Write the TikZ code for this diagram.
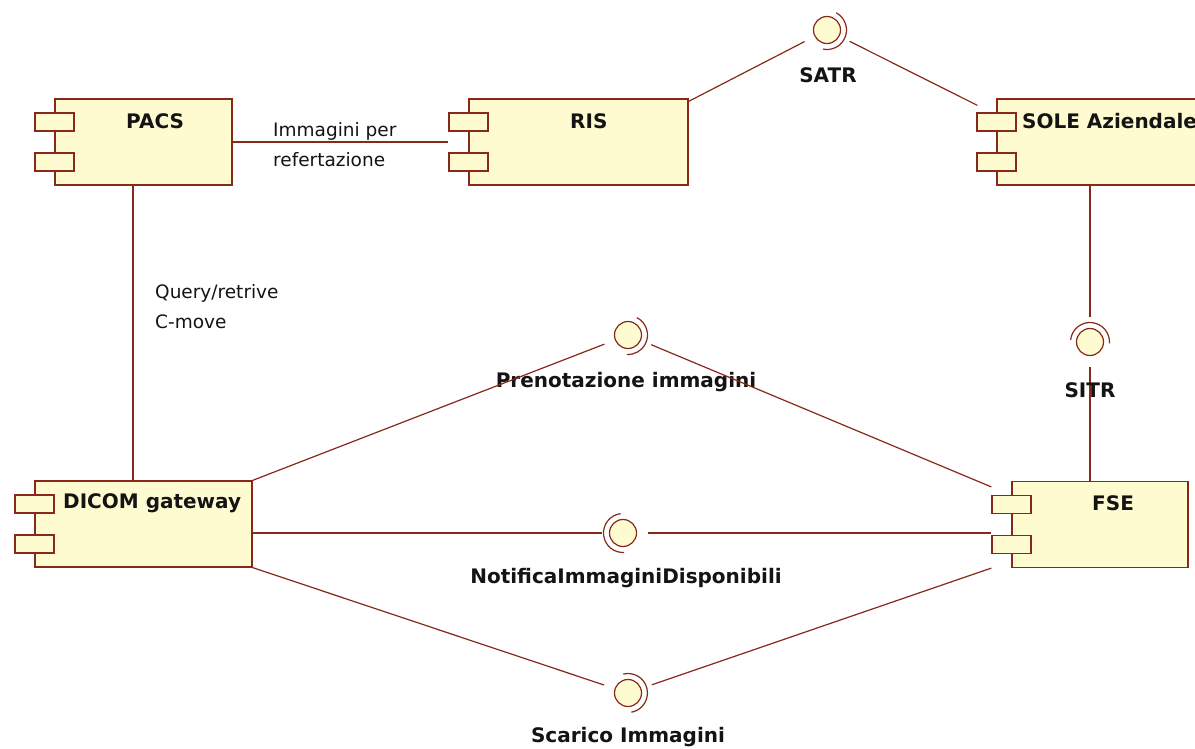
\documentclass[tikz,border=0pt]{standalone}
\usepackage{fontspec}
\setmainfont{DejaVu Sans}
\usetikzlibrary{calc}
\definecolor{umlline}{RGB}{136,40,24}
\definecolor{umlfill}{RGB}{255,251,208}
\definecolor{umltext}{RGB}{20,20,20}
\tikzset{
  comp/.style={draw=umlline, fill=umlfill, line width=1.2pt, minimum height=86pt, inner sep=0pt},
  port/.style={draw=umlline, fill=umlfill, line width=1.2pt, minimum width=39pt, minimum height=18pt, inner sep=0pt},
  complabel/.style={text=umltext, font=\fontsize{20}{24}\selectfont\bfseries, inner sep=0pt, anchor=west},
  ifclabel/.style={text=umltext, font=\fontsize{20}{24}\selectfont\bfseries, inner sep=0pt},
  conlabel/.style={text=umltext, font=\fontsize{18.5}{30}\selectfont, inner sep=0pt, align=left},
  ifc/.style={circle, minimum size=50pt, inner sep=0pt},
  ball/.style={draw=umlline, fill=umlfill, line width=1.2pt},
  socket/.style={draw=umlline, line width=1.2pt},
  wire/.style={draw=umlline, line width=1.2pt},
}
% name, centre x, centre y, width, label, label left x
\newcommand{\umlcomp}[6]{%
  \node[comp, minimum width=#4] (#1) at (#2,#3) {};
  \node[port] (#1-p1) at ($(#1.west)+(0,20)$) {};
  \node[port] (#1-p2) at ($(#1.west)+(0,-20)$) {};
  \node[complabel] (#1-l) at ({#6},{#3+21}) {#5};
}
\newcommand{\umliface}[5]{%
  \node[ifc] (#1) at (#2,#3) {};
  \draw[ball] (#1.center) circle[radius=13.5pt];
  \draw[socket] ($(#1.center)+(#4:19.5pt)$) arc[start angle=#4, end angle=#5, radius=19.5pt];
}
\begin{document}
\begin{tikzpicture}[x=1pt,y=1pt]
\path[use as bounding box] (0,0) rectangle (1195,-749);
\clip (0,0) rectangle (1195,-749);
\fill[white] (0,0) rectangle (1195,-749);

% components
\umlcomp{pacs}{143.5}{-142}{177pt}{PACS}{126}
\umlcomp{ris}{578.5}{-142}{219pt}{RIS}{570}
\umlcomp{sole}{1106.5}{-142}{219pt}{SOLE Aziendale}{1022}
\umlcomp{dicom}{143.5}{-524}{217pt}{DICOM gateway}{63}
\umlcomp{fse}{1100}{-524.5}{176pt}{FSE}{1092}

% interfaces
\umliface{satr}{827}{-30}{62}{-102}
\umliface{pren}{628}{-335}{63}{-93}
\umliface{notif}{623}{-533}{97}{273}
\umliface{scar}{628}{-693}{104}{-80}
\umliface{sitr}{1090}{-342}{174}{-4}

% interface labels
\node[ifclabel] (satr-t) at (828,-75) {SATR};
\node[ifclabel] (pren-t) at (626,-382) {Prenotazione immagini};
\node[ifclabel] (notif-t) at (626,-578) {NotificaImmaginiDisponibili};
\node[ifclabel] (scar-t) at (628,-737) {Scarico Immagini};

% connectors
\draw[wire] (pacs.east) -- (ris-p1.west |- pacs.east);
\draw[wire] ([xshift=-10.5pt]pacs.south) -- ([xshift=-10.5pt]dicom.north);
\draw[wire] ([yshift=-3pt]ris.north east) -- (satr);
\draw[wire] (satr) -- ($(sole.north west)+(-19,-7)$);
\draw[wire] (sitr |- sole.south) -- (sitr.north);
\draw[wire] (sitr) -- (sitr |- fse.north);
\draw[wire] (dicom.north east) -- (pren);
\draw[wire] (pren) -- ($(fse-p1.west |- fse.north)+(0,-6)$);
\draw[wire] (dicom.east |- notif) -- ($(notif.center)+(-21,0)$);
\draw[wire] (notif) -- (notif -| fse-p1.west);
\draw[wire] (dicom.south east) -- (scar);
\draw[wire] (scar) -- (fse-p2.west |- fse.south);

% SITR label drawn over its line
\node[ifclabel] (sitr-t) at (1090,-390) {SITR};

% connector labels
\node[conlabel, anchor=west] (imm-t) at (273,-145) {Immagini per\\refertazione};
\node[conlabel, anchor=west] (qr-t) at (155,-307) {Query/retrive\\C-move};
\end{tikzpicture}
\end{document}
